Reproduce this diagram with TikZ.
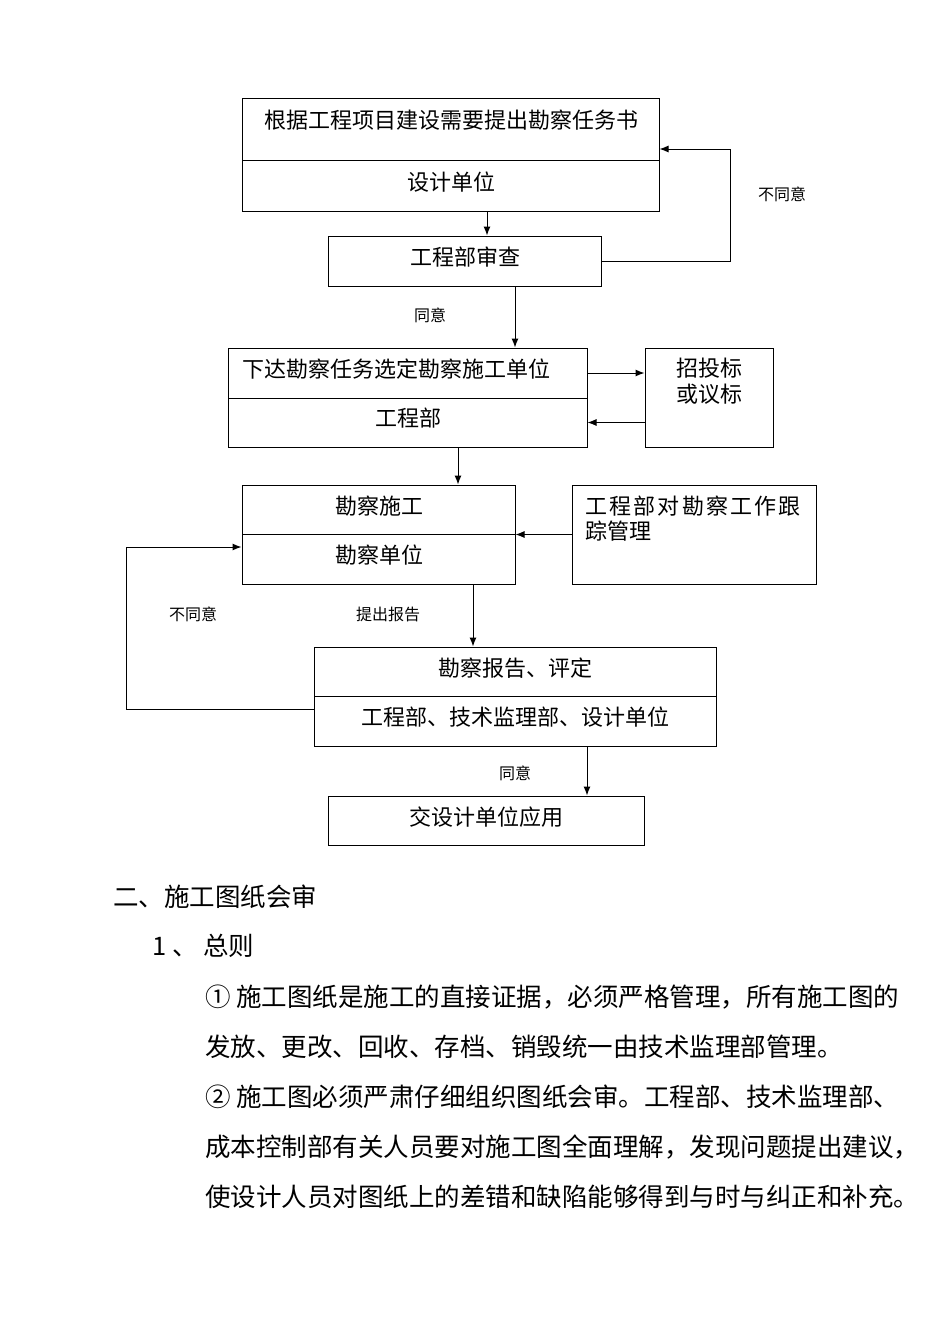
\documentclass[tikz,border=0pt]{standalone}
\usepackage{fontspec}
\setmainfont{Noto Sans CJK SC}
\usetikzlibrary{arrows.meta}
\tikzset{
	box/.style={draw, line width=1pt, inner sep=0pt},
	arr/.style={line width=1pt, -{Latex[length=9pt,width=7pt]}},
	lab/.style={font=\fontsize{22}{26}\selectfont, inner sep=0pt, align=center},
	note/.style={font=\fontsize{16}{18}\selectfont, inner sep=0pt},
	body/.style={font=\fontsize{25.5}{30}\selectfont, inner sep=0pt, anchor=west}
}
% name, centre x, centre y, width, height
\newcommand{\cell}[5]{
	\node[box, minimum width=#4pt, minimum height=#5pt] (#1) at (#2,#3) {};
}

\begin{document}
\begin{tikzpicture}[x=1pt,y=-1pt]
		\useasboundingbox (0,0) rectangle (950,1344);
		% boxes
		\cell{tasktop}{450.5}{129}{417}{62};
		\cell{taskbot}{450.5}{185.5}{417}{51};
		\cell{review}{464.5}{261}{273}{50};
		\cell{assigntop}{407.5}{373}{359}{50};
		\cell{assignbot}{407.5}{422.5}{359}{49};
		\cell{bid}{709}{397.5}{128}{99};
		\cell{surveytop}{378.5}{509.5}{273}{49};
		\cell{surveybot}{378.5}{559}{273}{50};
		\cell{track}{694}{534.5}{244}{99};
		\cell{reporttop}{515}{671.5}{402}{49};
		\cell{reportbot}{515}{721}{402}{50};
		\cell{apply}{486}{820.5}{316}{49};
		% box texts
		\node[lab] (tasktop-t) at (451,120) {根据工程项目建设需要提出勘察任务书};
		\node[lab] (taskbot-t) at (451,182) {设计单位};
		\node[lab] (review-t) at (465,257) {工程部审查};
		\node[lab] (assigntop-t) at (396,369) {下达勘察任务选定勘察施工单位};
		\node[lab] (assignbot-t) at (408,418) {工程部};
		\node[lab] (bid-t) at (709,381) {招投标\\或议标};
		\node[lab] (surveytop-t) at (379,506) {勘察施工};
		\node[lab] (surveybot-t) at (379,555) {勘察单位};
		\node[lab, anchor=west] (track-t1) at (585,506) {\addfontfeature{LetterSpace=10}工程部对勘察工作跟};
		\node[lab, anchor=west] (track-t2) at (585,531) {踪管理};
		\node[lab] (reporttop-t) at (515,668) {勘察报告、评定};
		\node[lab] (reportbot-t) at (515,717) {工程部、技术监理部、设计单位};
		\node[lab] (apply-t) at (486,817) {交设计单位应用};
		% connectors
		\draw[arr] ([xshift=36.5pt]taskbot.south) coordinate (a1) -- (a1 |- review.north);
		\draw[arr] (review.east) -- ++(129,0) |- ([yshift=-20pt]tasktop.east);
		\draw[arr] ([xshift=50.5pt]review.south) coordinate (a2) -- (a2 |- assigntop.north);
		\draw[arr] (assigntop.east) -- (assigntop.east -| bid.west);
		\draw[arr] (bid.west |- assignbot.east) -- (assignbot.east);
		\draw[arr] ([xshift=50.5pt]assignbot.south) coordinate (a3) -- (a3 |- surveytop.north);
		\draw[arr] (track.west) -- (track.west -| surveybot.east);
		\draw[arr] ([xshift=94.5pt]surveybot.south) coordinate (a4) -- (a4 |- reporttop.north);
		\draw[arr] ([yshift=12pt]reportbot.west) -- ++(-187,0) |- ([yshift=12pt]surveybot.west);
		\draw[arr] ([xshift=72pt]reportbot.south) coordinate (a5) -- (a5 |- apply.north);
		% connector notes
		\node[note] (no1) at (782,194) {不同意};
		\node[note] (yes1) at (430,315) {同意};
		\node[note] (no2) at (193,614) {不同意};
		\node[note] (rep) at (388,614) {提出报告};
		\node[note] (yes2) at (515,773) {同意};
		% text below
		\node[body] (head) at (113,897) {二、施工图纸会审};
		\node[body] (sub) at (152,946) {1 、 总则};
		\foreach \t [count=\i from 0] in {
			① 施工图纸是施工的直接证据，必须严格管理，所有施工图的,
			发放、更改、回收、存档、销毁统一由技术监理部管理。,
			② 施工图必须严肃仔细组织图纸会审。工程部、技术监理部、,
			成本控制部有关人员要对施工图全面理解，发现问题提出建议，,
			使设计人员对图纸上的差错和缺陷能够得到与时与纠正和补充。} {
			\node[body] (par\i) at (205,997+50*\i) {\t};
		}
\end{tikzpicture}
\end{document}
